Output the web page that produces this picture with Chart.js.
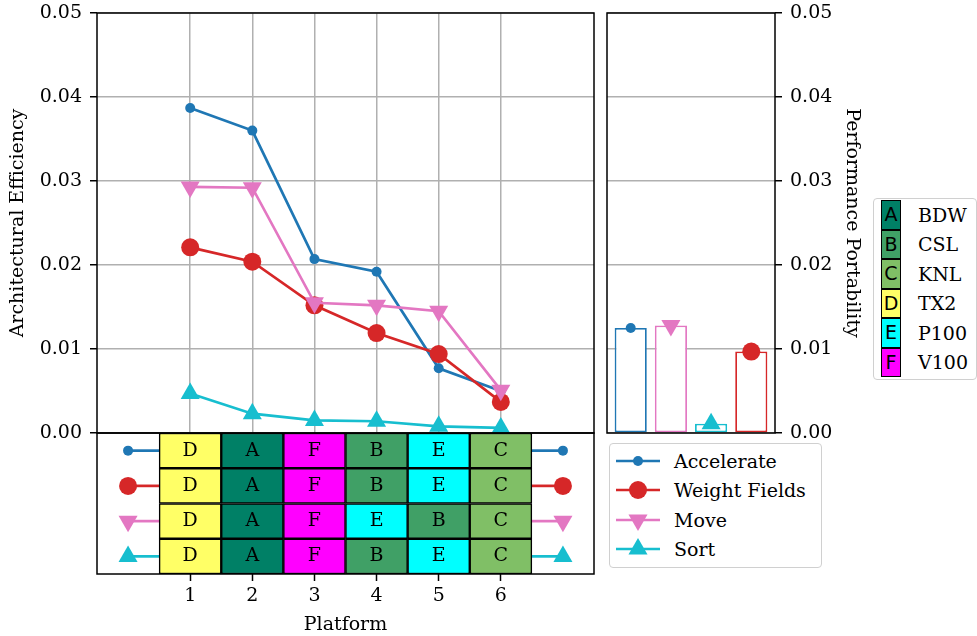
<!DOCTYPE html>
<html>
<head>
<meta charset="utf-8">
<script src="https://cdn.jsdelivr.net/npm/chart.js@4.4.1/dist/chart.umd.min.js"></script>
<style>
  html, body { margin: 0; padding: 0; background: #fff; }
  #fig { position: relative; width: 977px; height: 636px; overflow: hidden; font-family: 'DejaVu Serif', serif; font-size: 19px; color: #000; }
  #fig canvas { position: absolute; }
  .legend { position: absolute; background: #fff; border: 1px solid #d0d0d0; border-radius: 4px; box-sizing: border-box; }
  #series-legend { left: 609px; top: 443px; width: 213px; height: 125px; padding-top: 2px; }
  #series-legend .row { display: flex; align-items: center; height: 29.5px; }
  #series-legend svg { margin-left: 6px; margin-right: 14px; display: block; }
  #platform-legend { left: 873px; top: 198px; width: 104px; height: 182px; padding-top: 1px; }
  #platform-legend .row { display: flex; align-items: center; height: 29.5px; }
  #platform-legend .key { width: 20px; height: 29.5px; margin-left: 7px; margin-right: 17px; box-sizing: border-box;
    border: 1.5px solid #000; font-family: 'DejaVu Sans', sans-serif; font-size: 19px; line-height: 26px; text-align: center; }
</style>
</head>
<body>
<div id="fig">
  <canvas id="eff" width="605" height="460" style="left:0;top:-7px"></canvas>
  <canvas id="table" width="605" height="216" style="left:0;top:420px"></canvas>
  <canvas id="pp" width="289" height="460" style="left:591px;top:-7px"></canvas>
  <div id="series-legend" class="legend"></div>
  <div id="platform-legend" class="legend"></div>
</div>
<script>
// platform slots along the x axis
var PLATFORM_POS = [1, 2, 3, 4, 5, 6];
var SERIES = ['Accelerate', 'Weight Fields', 'Move', 'Sort'];
var Y_TICKS = [0, 0.01, 0.02, 0.03, 0.04, 0.05];

// architectural efficiency per slot
var ACCELERATE_EFF    = [0.0387, 0.0360, 0.0207, 0.0192, 0.0077, 0.0050];
var WEIGHT_FIELDS_EFF = [0.0221, 0.0204, 0.0152, 0.0119, 0.0094, 0.0037];
var MOVE_EFF          = [0.0293, 0.0292, 0.0155, 0.0152, 0.0145, 0.0051];
var SORT_EFF          = [0.0047, 0.0023, 0.0015, 0.0014, 0.0008, 0.0006];

// which platform sits in each slot, per kernel
var ACCELERATE_ORDER    = ['D', 'A', 'F', 'B', 'E', 'C'];
var WEIGHT_FIELDS_ORDER = ['D', 'A', 'F', 'B', 'E', 'C'];
var MOVE_ORDER          = ['D', 'A', 'F', 'E', 'B', 'C'];
var SORT_ORDER          = ['D', 'A', 'F', 'B', 'E', 'C'];

// performance portability bars
var PP_SERIES = ['Accelerate', 'Move', 'Sort', 'Weight Fields'];
var PP_VALUES = [0.0125, 0.0128, 0.0011, 0.0097];

var PLATFORM_KEYS  = ['A', 'B', 'C', 'D', 'E', 'F'];
var PLATFORM_NAMES = ['BDW', 'CSL', 'KNL', 'TX2', 'P100', 'V100'];

var EFFICIENCY = [ACCELERATE_EFF, WEIGHT_FIELDS_EFF, MOVE_EFF, SORT_EFF];
var LAYOUTS = [ACCELERATE_ORDER, WEIGHT_FIELDS_ORDER, MOVE_ORDER, SORT_ORDER];

var STYLE = {
  'Accelerate':    { color: '#1f77b4', shape: 'circle',   radius: 5,  rot: 0 },
  'Weight Fields': { color: '#d62728', shape: 'circle',   radius: 9,  rot: 0 },
  'Move':          { color: '#e377c2', shape: 'triangle', radius: 11, rot: 180 },
  'Sort':          { color: '#17becf', shape: 'triangle', radius: 11, rot: 0 }
};
var PLATFORM_COLORS = { A: '#008066', B: '#40a066', C: '#80bf66', D: '#ffff66', E: '#00ffff', F: '#ff00ff' };
var GRID = '#b0b0b0';
var KEY_X = [0, 7];   // x of the row keys either side of the table

Chart.defaults.font.family = "'DejaVu Serif', serif";
Chart.defaults.font.size = 19;
Chart.defaults.color = '#000';
Chart.defaults.animation = false;
Chart.defaults.plugins.legend.display = false;
Chart.defaults.plugins.tooltip.enabled = false;

function fixWidth(w) { return function (s) { s.width = w; }; }
function fixHeight(h) { return function (s) { s.height = h; }; }
function setTicks(vals) { return function (s) { s.ticks = vals.map(function (v) { return { value: v }; }); }; }
function fmt2(v) { return Number(v).toFixed(2); }

// black box round every plot area
var framePlugin = {
  id: 'frame',
  afterDraw: function (chart) {
    var a = chart.chartArea, ctx = chart.ctx;
    ctx.save();
    ctx.strokeStyle = '#000';
    ctx.lineWidth = 1.5;
    ctx.strokeRect(a.left, a.top, a.right - a.left, a.bottom - a.top);
    ctx.restore();
  }
};

function yAxis(position, title, titlePad, width) {
  return {
    position: position, min: 0, max: 0.05,
    afterBuildTicks: setTicks(Y_TICKS),
    afterFit: fixWidth(width),
    ticks: { padding: 8, callback: fmt2 },
    grid: { color: GRID, lineWidth: 1.5, tickLength: 7, tickColor: '#000', tickWidth: 1.5 },
    border: { display: false },
    title: { display: true, text: title, padding: { top: titlePad, bottom: 0 } }
  };
}

// x axis that only carries gridlines / positions, takes no room
function bareX(min, max, ticks, gridColor) {
  return {
    type: 'linear', min: min, max: max, offset: false,
    afterBuildTicks: setTicks(ticks),
    afterFit: fixHeight(0),
    ticks: { display: false },
    grid: { display: !!gridColor, color: gridColor, lineWidth: 1.5, drawTicks: false },
    border: { display: false }
  };
}

// efficiency lines
new Chart(document.getElementById('eff'), {
  type: 'line',
  data: {
    datasets: SERIES.map(function (name, i) {
      var st = STYLE[name];
      return {
        label: name,
        data: PLATFORM_POS.map(function (p, j) { return { x: p, y: EFFICIENCY[i][j] }; }),
        borderColor: st.color, backgroundColor: st.color,
        borderWidth: 2.7,
        pointStyle: st.shape, pointRadius: st.radius, pointRotation: st.rot,
        pointBorderWidth: 0,
        order: SERIES.length - i
      };
    })
  },
  options: {
    responsive: false,
    layout: { padding: { left: 0, top: 20, right: 6, bottom: 20 } },
    scales: {
      x: bareX(-0.5, 7.5, PLATFORM_POS, GRID),
      y: yAxis('left', 'Architectural Efficiency', 7, 97)
    }
  },
  plugins: [framePlugin]
});

// platform table under the lines
var cellLabels = {
  id: 'cellLabels',
  afterDatasetsDraw: function (chart) {
    var ctx = chart.ctx;
    ctx.save();
    ctx.font = "19px 'DejaVu Serif'";
    ctx.fillStyle = '#000';
    ctx.textAlign = 'center';
    ctx.textBaseline = 'middle';
    PLATFORM_POS.forEach(function (p, col) {
      chart.getDatasetMeta(col).data.forEach(function (bar, row) {
        ctx.fillText(LAYOUTS[row][col], (bar.x + bar.base) / 2, bar.y);
      });
    });
    ctx.restore();
  }
};

var cellSets = PLATFORM_POS.map(function (p, col) {
  return {
    type: 'bar', indexAxis: 'y',
    data: LAYOUTS.map(function () { return [p - 0.5, p + 0.5]; }),
    backgroundColor: LAYOUTS.map(function (row) { return PLATFORM_COLORS[row[col]]; }),
    borderColor: '#000', borderWidth: 1.5, borderSkipped: false,
    barPercentage: 1, categoryPercentage: 1, grouped: false
  };
});

var keySets = [];
SERIES.forEach(function (name) {
  var st = STYLE[name];
  var first = PLATFORM_POS[0] - 0.5, last = PLATFORM_POS[PLATFORM_POS.length - 1] + 0.5;
  [[KEY_X[0], first, [st.radius, 0]], [last, KEY_X[1], [0, st.radius]]].forEach(function (seg) {
    keySets.push({
      type: 'scatter', indexAxis: 'x', showLine: true,
      data: [{ x: seg[0], y: name }, { x: seg[1], y: name }],
      borderColor: st.color, backgroundColor: st.color, borderWidth: 2.7,
      pointStyle: st.shape, pointRadius: seg[2], pointRotation: st.rot, pointBorderWidth: 0
    });
  });
});

new Chart(document.getElementById('table'), {
  type: 'bar',
  data: { labels: SERIES, datasets: cellSets.concat(keySets) },
  options: {
    responsive: false,
    indexAxis: 'y',
    layout: { padding: { left: 97, top: 13, right: 6, bottom: 0 } },
    scales: {
      x: {
        type: 'linear', min: -0.5, max: 7.5,
        afterBuildTicks: setTicks(PLATFORM_POS),
        afterFit: fixHeight(62),
        ticks: { padding: 4 },
        grid: { drawOnChartArea: false, tickLength: 7, tickColor: '#000', tickWidth: 1.5 },
        border: { display: false },
        title: { display: true, text: 'Platform', padding: { top: 0, bottom: 0 } }
      },
      y: { type: 'category', labels: SERIES, offset: true, display: false }
    }
  },
  plugins: [framePlugin, cellLabels]
});

// performance portability bars
var ppSets = [{
  type: 'bar',
  data: PP_VALUES.map(function (v, i) { return { x: i, y: v }; }),
  backgroundColor: '#fff',
  borderColor: PP_SERIES.map(function (n) { return STYLE[n].color; }),
  borderWidth: 1.8, borderSkipped: false,
  barPercentage: 0.8, categoryPercentage: 1,
  order: 1
}].concat(PP_SERIES.map(function (name, i) {
  var st = STYLE[name];
  return {
    type: 'scatter',
    data: [{ x: i, y: PP_VALUES[i] }],
    backgroundColor: st.color,
    pointStyle: st.shape, pointRadius: st.radius, pointRotation: st.rot, pointBorderWidth: 0,
    order: 0
  };
}));

new Chart(document.getElementById('pp'), {
  type: 'bar',
  data: { datasets: ppSets },
  options: {
    responsive: false,
    layout: { padding: { left: 16, top: 20, right: 13, bottom: 20 } },
    scales: {
      x: bareX(-0.59, 3.59, [0, 1, 2, 3], null),
      y: yAxis('right', 'Performance Portability', 4, 92)
    }
  },
  plugins: [framePlugin]
});

// legends
function markerSvg(name) {
  var st = STYLE[name], w = 44, h = 24, cx = 22, cy = 12, r = st.radius, mark;
  if (st.shape === 'circle') {
    mark = '<circle cx="' + cx + '" cy="' + cy + '" r="' + r + '" fill="' + st.color + '"/>';
  } else {
    var s = st.rot ? -1 : 1, hw = r * 0.866;
    mark = '<polygon fill="' + st.color + '" points="' +
      cx + ',' + (cy - s * r) + ' ' + (cx - hw) + ',' + (cy + s * r / 2) + ' ' + (cx + hw) + ',' + (cy + s * r / 2) + '"/>';
  }
  return '<svg width="' + w + '" height="' + h + '"><line x1="0" y1="' + cy + '" x2="' + w + '" y2="' + cy +
    '" stroke="' + st.color + '" stroke-width="2.7"/>' + mark + '</svg>';
}

document.getElementById('series-legend').innerHTML = SERIES.map(function (name) {
  return '<div class="row">' + markerSvg(name) + '<span>' + name + '</span></div>';
}).join('');

document.getElementById('platform-legend').innerHTML = PLATFORM_KEYS.map(function (k, i) {
  return '<div class="row"><div class="key" style="background:' + PLATFORM_COLORS[k] + '">' + k +
    '</div><span>' + PLATFORM_NAMES[i] + '</span></div>';
}).join('');
</script>
</body>
</html>
